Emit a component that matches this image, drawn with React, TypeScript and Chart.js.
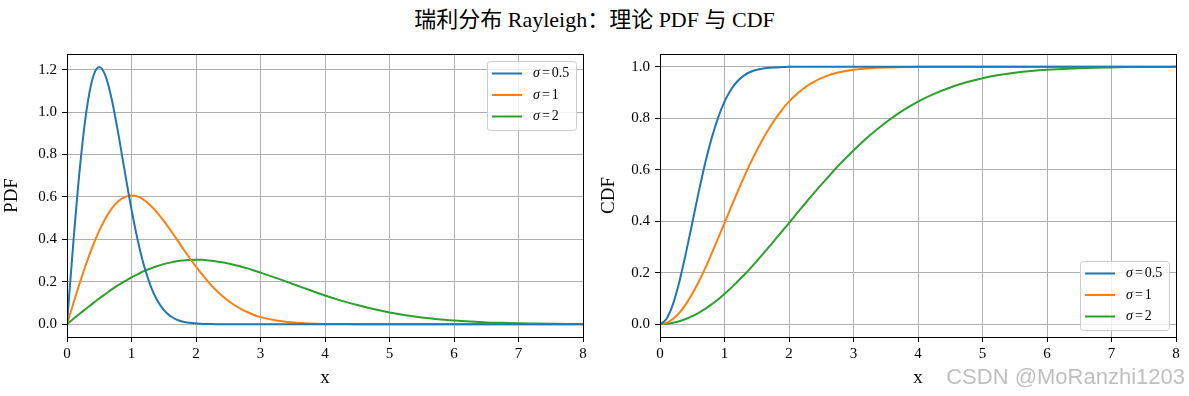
import React, { useEffect, useRef } from "react";
import { Chart, registerables } from "chart.js";

Chart.register(...registerables);

// ---------------- data ----------------
const xValues = [
  0, 0.1, 0.2, 0.3, 0.4, 0.5, 0.6, 0.7, 0.8, 0.9, 1, 1.1, 1.2, 1.3, 1.4, 1.5, 1.6, 1.7, 1.8, 1.9, 2,
  2.1, 2.2, 2.3, 2.4, 2.5, 2.6, 2.7, 2.8, 2.9, 3, 3.25, 3.5, 3.75, 4, 4.25, 4.5, 4.75, 5, 5.25, 5.5,
  5.75, 6, 6.25, 6.5, 6.75, 7, 7.25, 7.5, 7.75, 8,
];

const pdfSigma05 = [
  0, 0.392, 0.738, 1.002, 1.162, 1.213, 1.168, 1.051, 0.89, 0.712, 0.541, 0.391, 0.269, 0.177, 0.111,
  0.067, 0.038, 0.021, 0.011, 0.006, 0.003, 0.001, 0.001, 0, 0, 0, 0, 0, 0, 0, 0, 0, 0, 0, 0, 0, 0, 0,
  0, 0, 0, 0, 0, 0, 0, 0, 0, 0, 0, 0, 0,
];
const pdfSigma1 = [
  0, 0.1, 0.196, 0.287, 0.369, 0.441, 0.501, 0.548, 0.581, 0.6, 0.607, 0.601, 0.584, 0.558, 0.525,
  0.487, 0.445, 0.401, 0.356, 0.312, 0.271, 0.232, 0.196, 0.163, 0.135, 0.11, 0.089, 0.071, 0.056,
  0.043, 0.033, 0.017, 0.008, 0.003, 0.001, 0.0005, 0, 0, 0, 0, 0, 0, 0, 0, 0, 0, 0, 0, 0, 0, 0,
];
const pdfSigma2 = [
  0, 0.025, 0.05, 0.074, 0.098, 0.121, 0.143, 0.165, 0.185, 0.203, 0.221, 0.236, 0.251, 0.263, 0.274,
  0.283, 0.29, 0.296, 0.3, 0.302, 0.303, 0.303, 0.3, 0.297, 0.292, 0.286, 0.279, 0.271, 0.263, 0.253,
  0.243, 0.217, 0.189, 0.162, 0.135, 0.111, 0.09, 0.071, 0.055, 0.042, 0.031, 0.023, 0.017, 0.012,
  0.008, 0.006, 0.004, 0.003, 0.002, 0.001, 0.001,
];

const cdfSigma05 = [
  0, 0.02, 0.077, 0.165, 0.274, 0.393, 0.513, 0.625, 0.722, 0.802, 0.865, 0.911, 0.944, 0.966, 0.98,
  0.989, 0.994, 0.997, 0.998, 0.999, 1, 1, 1, 1, 1, 1, 1, 1, 1, 1, 1, 1, 1, 1, 1, 1, 1, 1, 1, 1, 1,
  1, 1, 1, 1, 1, 1, 1, 1, 1, 1,
];
const cdfSigma1 = [
  0, 0.005, 0.02, 0.044, 0.077, 0.118, 0.165, 0.217, 0.274, 0.333, 0.393, 0.454, 0.513, 0.57, 0.625,
  0.675, 0.722, 0.764, 0.802, 0.836, 0.865, 0.89, 0.911, 0.929, 0.944, 0.956, 0.966, 0.974, 0.98,
  0.985, 0.989, 0.995, 0.998, 0.999, 1, 1, 1, 1, 1, 1, 1, 1, 1, 1, 1, 1, 1, 1, 1, 1, 1,
];
const cdfSigma2 = [
  0, 0.001, 0.005, 0.011, 0.02, 0.031, 0.044, 0.059, 0.077, 0.096, 0.118, 0.14, 0.165, 0.19, 0.217,
  0.245, 0.274, 0.303, 0.333, 0.363, 0.393, 0.424, 0.454, 0.484, 0.513, 0.542, 0.57, 0.598, 0.625,
  0.65, 0.675, 0.733, 0.784, 0.828, 0.865, 0.895, 0.92, 0.94, 0.956, 0.968, 0.977, 0.984, 0.989,
  0.992, 0.995, 0.997, 0.998, 0.999, 0.999, 0.999, 1,
];

const sigmaLabels = ["0.5", "1", "2"];
const seriesColors = ["#1f77b4", "#ff7f0e", "#2ca02c"];
const xTicks = [0, 1, 2, 3, 4, 5, 6, 7, 8];
const pdfTicks = [0, 0.2, 0.4, 0.6, 0.8, 1.0, 1.2];
const cdfTicks = [0, 0.2, 0.4, 0.6, 0.8, 1.0];

const TITLE = "瑞利分布 Rayleigh：理论 PDF 与 CDF";
const WATERMARK = "CSDN @MoRanzhi1203";

const SERIF = '"Liberation Serif", "Times New Roman", "Noto Sans CJK SC", serif';

// ---------------- plugins ----------------
const framePlugin = {
  id: "mplFrame",
  afterDatasetsDraw(chart: any) {
    const { ctx, chartArea } = chart;
    const l = Math.round(chartArea.left) + 0.5;
    const r = Math.round(chartArea.right) + 0.5;
    const t = Math.round(chartArea.top) + 0.5;
    const b = Math.round(chartArea.bottom) + 0.5;
    ctx.save();
    ctx.strokeStyle = "#000";
    ctx.lineWidth = 1;
    ctx.strokeRect(l, t, r - l, b - t);
    ctx.restore();
  },
};

const legendPlugin = {
  id: "mplLegend",
  afterDraw(chart: any, _args: any, opts: any) {
    const { ctx, chartArea } = chart;
    const w = 89;
    const h = 69;
    const x0 = Math.round(chartArea.right) - 7 - w;
    const y0 = opts.loc === "upper" ? Math.round(chartArea.top) + 7 : Math.round(chartArea.bottom) - 7 - h;
    ctx.save();
    ctx.beginPath();
    ctx.roundRect(x0 + 0.5, y0 + 0.5, w, h, 3);
    ctx.fillStyle = "rgba(255,255,255,0.8)";
    ctx.fill();
    ctx.strokeStyle = "#cccccc";
    ctx.lineWidth = 1;
    ctx.stroke();
    chart.data.datasets.forEach((ds: any, i: number) => {
      const cy = y0 + 12.5 + i * 21.5;
      ctx.beginPath();
      ctx.moveTo(x0 + 5, cy);
      ctx.lineTo(x0 + 35, cy);
      ctx.strokeStyle = ds.borderColor;
      ctx.lineWidth = 2;
      ctx.stroke();
      ctx.fillStyle = "#000";
      ctx.textBaseline = "middle";
      ctx.textAlign = "left";
      ctx.font = `italic 14px ${SERIF}`;
      let tx = x0 + 46;
      ctx.fillText("σ", tx, cy);
      tx += ctx.measureText("σ").width + 2;
      ctx.font = `14px ${SERIF}`;
      ctx.fillText("=", tx, cy);
      tx += ctx.measureText("=").width + 2;
      ctx.fillText(sigmaLabels[i], tx, cy);
    });
    ctx.restore();
  },
};

// ---------------- chart builder ----------------
function makeConfig(
  series: number[][],
  yLabel: string,
  yMin: number,
  yMax: number,
  yTicks: number[],
  yWidth: number,
  padRight: number,
  yTitlePad: number,
  legendLoc: string
): any {
  return {
    type: "line",
    data: {
      datasets: series.map((s, i) => ({
        label: `σ=${sigmaLabels[i]}`,
        data: xValues.map((x, j) => ({ x, y: s[j] })),
        borderColor: seriesColors[i],
        backgroundColor: seriesColors[i],
        borderWidth: 2,
        pointRadius: 0,
        fill: false,
        cubicInterpolationMode: "monotone",
      })),
    },
    options: {
      animation: false,
      responsive: false,
      maintainAspectRatio: false,
      events: [],
      layout: { padding: { top: 54, right: padRight, left: 0, bottom: 0 } },
      plugins: {
        legend: { display: false },
        tooltip: { enabled: false },
        title: { display: false },
        mplLegend: { loc: legendLoc },
      },
      scales: {
        x: {
          type: "linear",
          min: 0,
          max: 8,
          afterFit: (s: any) => {
            s.height = 59;
          },
          afterBuildTicks: (s: any) => {
            s.ticks = xTicks.map((v) => ({ value: v }));
          },
          ticks: {
            callback: (v: any) => String(v),
            color: "#000",
            font: { family: SERIF, size: 15 },
            padding: 3,
            maxRotation: 0,
            autoSkip: false,
          },
          grid: {
            color: "#b0b0b0",
            lineWidth: 1,
            tickColor: "#000",
            tickLength: 5,
            tickWidth: 1,
          },
          border: { color: "#000", width: 1 },
          title: {
            display: true,
            text: "x",
            color: "#000",
            font: { family: SERIF, size: 19 },
            padding: { top: 0, bottom: 7 },
          },
        },
        y: {
          type: "linear",
          min: yMin,
          max: yMax,
          afterFit: (s: any) => {
            s.width = yWidth;
          },
          afterBuildTicks: (s: any) => {
            s.ticks = yTicks.map((v) => ({ value: v }));
          },
          ticks: {
            callback: (v: any) => Number(v).toFixed(1),
            color: "#000",
            font: { family: SERIF, size: 15 },
            padding: 5,
            autoSkip: false,
          },
          grid: {
            color: "#b0b0b0",
            lineWidth: 1,
            tickColor: "#000",
            tickLength: 5,
            tickWidth: 1,
          },
          border: { color: "#000", width: 1 },
          title: {
            display: true,
            text: yLabel,
            color: "#000",
            font: { family: SERIF, size: 19 },
            padding: { top: yTitlePad, bottom: 0 },
          },
        },
      },
    },
    plugins: [framePlugin, legendPlugin],
  };
}

export default function App() {
  const leftRef = useRef<HTMLCanvasElement | null>(null);
  const rightRef = useRef<HTMLCanvasElement | null>(null);

  useEffect(() => {
    const charts: Chart[] = [];
    if (leftRef.current) {
      charts.push(
        new Chart(
          leftRef.current,
          makeConfig([pdfSigma05, pdfSigma1, pdfSigma2], "PDF", -0.0607, 1.2738, pdfTicks, 67, 12, 1, "upper")
        )
      );
    }
    if (rightRef.current) {
      charts.push(
        new Chart(
          rightRef.current,
          makeConfig([cdfSigma05, cdfSigma1, cdfSigma2], "CDF", -0.05, 1.05, cdfTicks, 65, 13, 3, "lower")
        )
      );
    }
    return () => {
      charts.forEach((c) => c.destroy());
    };
  }, []);

  return (
    <div
      style={{
        position: "absolute",
        left: 0,
        top: 0,
        width: 1189,
        height: 396,
        background: "#fff",
        overflow: "hidden",
      }}
    >
      <div
        style={{
          position: "absolute",
          left: 0,
          top: 8,
          width: 1189,
          textAlign: "center",
          fontFamily: SERIF,
          fontSize: 22,
          lineHeight: "24px",
          color: "#000",
          whiteSpace: "nowrap",
        }}
      >
        {TITLE}
      </div>
      <canvas
        ref={leftRef}
        width={595}
        height={396}
        style={{ position: "absolute", left: 0, top: 0, width: 595, height: 396 }}
      />
      <canvas
        ref={rightRef}
        width={594}
        height={396}
        style={{ position: "absolute", left: 595, top: 0, width: 594, height: 396 }}
      />
      <div
        style={{
          position: "absolute",
          right: 4,
          top: 364,
          fontFamily: '"Liberation Sans", Arial, sans-serif',
          fontSize: 22,
          lineHeight: "26px",
          color: "rgba(170,170,170,0.75)",
          whiteSpace: "nowrap",
        }}
      >
        {WATERMARK}
      </div>
    </div>
  );
}
